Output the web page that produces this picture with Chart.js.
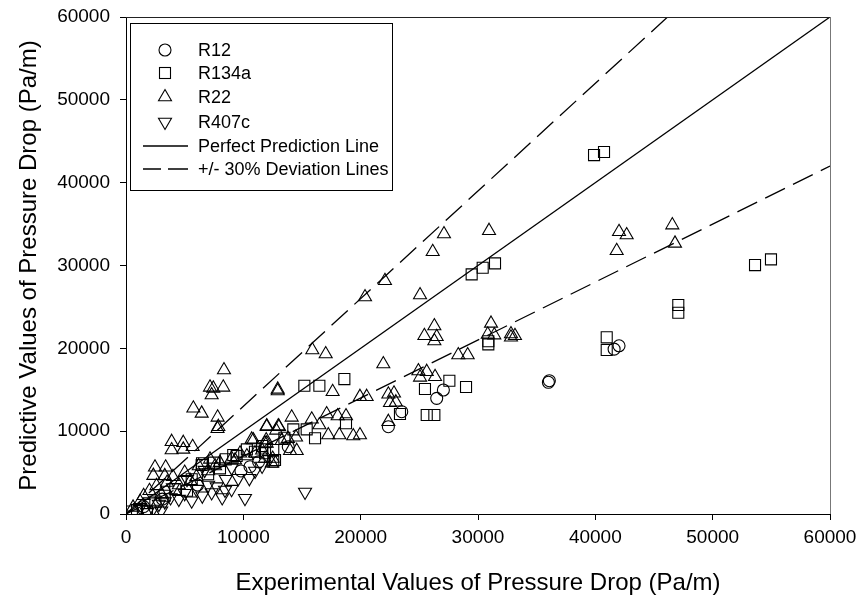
<!DOCTYPE html>
<html>
<head>
<meta charset="utf-8">
<script src="https://cdn.jsdelivr.net/npm/chart.js@4.4.0/dist/chart.umd.min.js"></script>
<style>
  html, body { margin: 0; padding: 0; background: #fff; }
  #wrap { width: 863px; height: 599px; }
</style>
</head>
<body>
<div id="wrap"><canvas id="c" width="863" height="599"></canvas></div>
<script>
// Axis ticks (Pa/m)
const axisTicks = [0, 10000, 20000, 30000, 40000, 50000, 60000];
const xTitle = 'Experimental Values of Pressure Drop (Pa/m)';
const yTitle = 'Predictive Values of Pressure Drop (Pa/m)';
const seriesNames = ['R12', 'R134a', 'R22', 'R407c', 'Perfect Prediction Line', '+/- 30% Deviation Lines'];

// R12: experimental vs predicted
const r12X = [36080, 36000, 42020, 41600, 27050, 26480, 23500, 22360, 13830, 10570, 11300, 9800, 6100, 3100, 1500];
const r12Y = [16090, 15900, 20310, 19900, 14970, 13960, 12350, 10540, 8120, 5710, 6300, 5200, 3500, 1800, 900];

// R134a
const r134aX = [39890, 40740, 53610, 54970, 47070, 47070, 40970, 40970, 29460, 30400, 31450, 30880, 30880,
  27560, 25480, 28980, 23350, 25630, 26280, 15200, 16480, 18610, 18750, 14260, 15400, 16110, 12550, 12550,
  9430, 10990, 6450, 8010, 9140, 11850, 12700, 6480, 940, 1790, 500, 2500, 3300, 4200, 5200, 5600, 7000,
  7500, 8500, 10300, 11600, 13500];
const r134aY = [43330, 43700, 30050, 30740, 25230, 24300, 21330, 19800, 28930, 29730, 30260, 20480, 20850,
  16090, 15090, 15330, 12070, 11950, 11950, 15490, 15490, 16290, 10950, 10220, 10220, 9140, 7720, 6310,
  7000, 7520, 5910, 5510, 7120, 7330, 6520, 6120, 480, 280, 300, 1500, 2200, 3000, 2800, 4200, 4800,
  6200, 6600, 7800, 8200, 9200];

// R22
const r22X = [42020, 42670, 46560, 46790, 41820, 26140, 27100, 30940, 22070, 25060, 20370,
  26280, 25430, 26480, 26280, 31110, 31390, 30830, 32810, 33150, 32810, 28320, 29120, 21930,
  24920, 25630, 26340, 25060, 22360, 22840, 22500, 23000, 22360, 15880, 17020, 12930, 12930,
  17610, 19940, 20510, 14120, 11990, 13040, 15830, 17100, 18040, 18750, 16480, 17240, 18180,
  19370, 19940, 14490, 13800, 14550, 13980, 11850, 11600, 11850, 12500, 8350, 8290, 7160, 7440,
  7300, 5740, 6450, 7810, 7870, 7800, 3890, 4880, 5680, 3890, 4880, 2470, 3380, 2330, 3300,
  10850, 11950, 12800, 9300, 10300, 12000, 12980, 10710, 11990, 13270, 9720, 10990, 12420,
  7160, 7590, 600, 1200, 1500, 2000, 2600, 3000, 3500, 4000, 4500, 5000, 5500, 6000, 6200,
  7000, 8000, 9000];
const r22Y = [34070, 33680, 34880, 32670, 31780, 31660, 33800, 34200, 28160, 26430, 26190,
  22690, 21520, 21400, 20880, 23010, 21600, 21690, 21730, 21520, 21330, 19190, 19190, 18100,
  17260, 17180, 16570, 16500, 14450, 14570, 13430, 13500, 11140, 19800, 19310, 15050, 14850,
  14760, 14160, 14160, 11670, 10540, 10540, 11430, 12070, 11830, 11830, 10740, 9535, 9535,
  9415, 9535, 9260, 9100, 7640, 7640, 8530, 7700, 6700, 6700, 17380, 15290, 15290, 15170,
  14360, 12760, 12150, 11670, 10540, 10300, 8730, 8610, 8120, 7720, 7800, 5640, 5640, 4630, 4600,
  8930, 8930, 10100, 6500, 7000, 10620, 10620, 9010, 8530, 8850, 7330, 7330, 6120,
  6600, 5790, 800, 1500, 2200, 2800, 3400, 2400, 3800, 4500, 3500, 5000, 4000, 4500, 5800,
  5200, 6200, 6700];

// R407c
const r407cX = [1800, 2300, 2800, 3300, 3800, 4500, 5000, 5600, 6000, 6500, 7000, 7300, 7730, 8200,
  8500, 9000, 9570, 10140, 10510, 11000, 11600, 12200, 15260, 4000, 2000, 1200, 3000, 5200, 6700, 9000, 8440];
const r407cY = [200, 600, 1200, 1500, 2000, 1800, 2500, 1600, 3000, 2200, 3500, 2600, 3300, 2000,
  4200, 3000, 4310, 1900, 4310, 5200, 5800, 6600, 2660, 3200, 1500, 800, 400, 4200, 5300, 5600, 2900];

// Reference lines: y = x and +/- 30 %
const perfectX = [0, 60000];
const perfectY = [0, 60000];
const upperX = [0, 46154];
const upperY = [0, 60000];
const lowerX = [0, 60000];
const lowerY = [0, 42000];

const FONT = '"Liberation Sans", Arial, Helvetica, sans-serif';
const zip = (xs, ys) => xs.map((x, i) => ({ x: x, y: ys[i] }));

const marker = (label, xs, ys, style, radius, rotation) => ({
  type: 'scatter',
  label: label,
  data: zip(xs, ys),
  pointStyle: style,
  pointRadius: radius,
  pointHoverRadius: radius,
  rotation: rotation || 0,
  backgroundColor: 'rgba(0,0,0,0)',
  borderColor: '#000',
  borderWidth: 1.1
});

const refLine = (label, xs, ys, dash) => ({
  type: 'line',
  label: label,
  data: zip(xs, ys),
  borderColor: '#000',
  borderWidth: 1.3,
  borderDash: dash,
  pointRadius: 0,
  fill: false,
  tension: 0
});

// Frame (top/right edges) and the boxed legend inside the plot
const framePlugin = {
  id: 'frameAndLegend',
  afterDraw(chart) {
    const { ctx, chartArea: a } = chart;
    ctx.save();
    ctx.lineWidth = 1;
    ctx.strokeStyle = '#222';
    ctx.beginPath();
    ctx.moveTo(a.left, a.top + 0.5);
    ctx.lineTo(a.right, a.top + 0.5);
    ctx.stroke();
    ctx.strokeStyle = '#777';
    ctx.beginPath();
    ctx.moveTo(a.right + 0.5, a.top);
    ctx.lineTo(a.right + 0.5, a.bottom);
    ctx.stroke();

    // legend box
    const bx = 130.5, by = 23.5, bw = 262, bh = 167;
    ctx.fillStyle = '#fff';
    ctx.fillRect(bx, by, bw, bh);
    ctx.strokeStyle = '#000';
    ctx.strokeRect(bx, by, bw, bh);

    const rows = [50, 73, 97, 122, 146, 169];
    const mx = 165, tx = 198;
    ctx.lineWidth = 1.1;
    ctx.strokeStyle = '#000';
    // circle
    ctx.beginPath(); ctx.arc(mx, rows[0], 6, 0, Math.PI * 2); ctx.stroke();
    // square
    ctx.strokeRect(mx - 5.5, rows[1] - 5.5, 11, 11);
    // up triangle
    ctx.beginPath();
    ctx.moveTo(mx, rows[2] - 7.5); ctx.lineTo(mx + 6.5, rows[2] + 3.75); ctx.lineTo(mx - 6.5, rows[2] + 3.75);
    ctx.closePath(); ctx.stroke();
    // down triangle
    ctx.beginPath();
    ctx.moveTo(mx, rows[3] + 7.5); ctx.lineTo(mx + 6.5, rows[3] - 3.75); ctx.lineTo(mx - 6.5, rows[3] - 3.75);
    ctx.closePath(); ctx.stroke();
    // line samples
    ctx.lineWidth = 1.3;
    ctx.beginPath(); ctx.moveTo(143, rows[4]); ctx.lineTo(188, rows[4]); ctx.stroke();
    ctx.beginPath(); ctx.moveTo(143, rows[5]); ctx.lineTo(161, rows[5]);
    ctx.moveTo(168, rows[5]); ctx.lineTo(188, rows[5]); ctx.stroke();

    ctx.fillStyle = '#000';
    ctx.font = '18px ' + FONT;
    ctx.textBaseline = 'middle';
    ctx.textAlign = 'left';
    seriesNames.forEach((n, i) => ctx.fillText(n, tx, rows[i] + 1));
    ctx.restore();
  }
};

const tickCfg = {
  font: { family: FONT, size: 19 },
  color: '#000',
  autoSkip: false,
  maxRotation: 0,
  callback: v => String(v)
};

new Chart(document.getElementById('c'), {
  type: 'scatter',
  data: {
    datasets: [
      marker(seriesNames[0], r12X, r12Y, 'circle', 6),
      marker(seriesNames[1], r134aX, r134aY, 'rect', 7.8),
      marker(seriesNames[2], r22X, r22Y, 'triangle', 7.5),
      marker(seriesNames[3], r407cX, r407cY, 'triangle', 7.5, 180),
      refLine(seriesNames[4], perfectX, perfectY, []),
      refLine(seriesNames[5], upperX, upperY, [22, 9]),
      refLine('', lowerX, lowerY, [22, 9])
    ]
  },
  options: {
    responsive: false,
    animation: false,
    layout: { padding: { top: 17, right: 33, left: 0, bottom: 0 } },
    plugins: { legend: { display: false }, tooltip: { enabled: false } },
    scales: {
      x: {
        type: 'linear', min: 0, max: 60000,
        afterBuildTicks: s => { s.ticks = axisTicks.map(v => ({ value: v })); },
        afterFit: s => { s.height = 85; s.paddingLeft = 0; s.paddingRight = 0; },
        ticks: Object.assign({ padding: 6 }, tickCfg),
        grid: { drawOnChartArea: false, drawTicks: true, tickLength: 6, color: '#000' },
        border: { display: true, color: '#000', width: 1 },
        title: { display: true, text: xTitle, color: '#000', font: { family: FONT, size: 24 }, padding: { top: 1, bottom: 1 } }
      },
      y: {
        type: 'linear', min: 0, max: 60000,
        afterBuildTicks: s => { s.ticks = axisTicks.map(v => ({ value: v })); },
        afterFit: s => { s.width = 126; s.paddingTop = 0; s.paddingBottom = 0; },
        ticks: Object.assign({ padding: 10 }, tickCfg),
        grid: { drawOnChartArea: false, drawTicks: true, tickLength: 6, color: '#000' },
        border: { display: true, color: '#000', width: 1 },
        title: { display: true, text: yTitle, color: '#000', font: { family: FONT, size: 24 }, padding: { top: 15, bottom: 15 } }
      }
    }
  },
  plugins: [framePlugin]
});
</script>
</body>
</html>
